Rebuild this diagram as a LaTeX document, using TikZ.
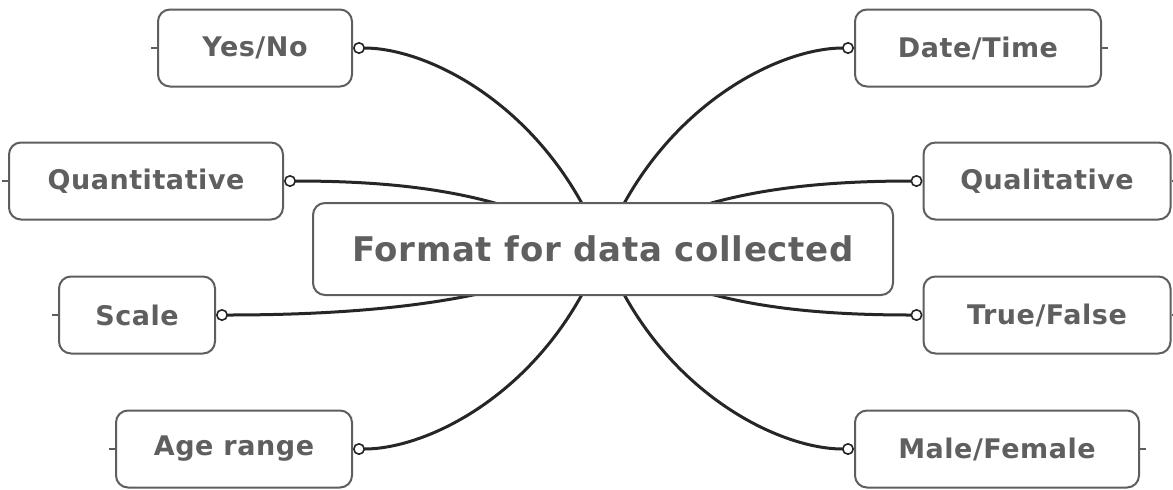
\documentclass[tikz,border=0pt]{standalone}
\usepackage{fontspec}
\setmainfont{DejaVu Sans}[LetterSpace=2]
\usetikzlibrary{arrows.meta}
\pgfdeclarelayer{bg}
\pgfsetlayers{bg,main}
\definecolor{boxgray}{HTML}{5E5E5E}
\definecolor{textgray}{HTML}{5F5F5F}
\definecolor{linegray}{HTML}{262626}
\begin{document}
\begin{tikzpicture}[x=0.5pt, y=-0.5pt,
    item/.style={draw=boxgray, line width=1pt, rounded corners=6pt, fill=white,
        inner sep=0pt, minimum height=38.5pt, text=textgray,
        font=\bfseries\fontsize{13.5}{16}\selectfont},
    link/.style={draw=linegray, line width=1.5pt,
        {Circle[open, length=6pt, width=6pt, line width=0.8pt]}-},
    stub/.style={draw=boxgray, line width=0.7pt}]
    \useasboundingbox (0,0) rectangle (1173,489);

    % centre
    \node[item, minimum width=290pt, minimum height=46pt,
        font=\bfseries\fontsize{17}{20}\selectfont] (center) at (603,249) {Format for data collected};

    % left side
    \node[item, minimum width=97pt] (yesno) at (255,48) {Yes/No};
    \node[item, minimum width=137pt] (quant) at (146,181) {Quantitative};
    \node[item, minimum width=78pt] (scale) at (137,315) {Scale};
    \node[item, minimum width=118pt] (age) at (234,449) {Age range};

    % right side
    \node[item, minimum width=123pt] (datetime) at (978,48) {Date/Time};
    \node[item, minimum width=123.5pt] (qual) at (1047,181) {Qualitative};
    \node[item, minimum width=123.5pt] (truefalse) at (1047,315) {True/False};
    \node[item, minimum width=142pt] (malefemale) at (997,449) {Male/Female};

    \begin{pgfonlayer}{bg}
        \draw[link] (yesno.east) .. controls +(78,0) and +(-53,-139) .. (center.center);
        \draw[link] (quant.east) .. controls +(147,0) and +(-83,-49) .. (center.center);
        \draw[link] (scale.east) .. controls +(170,0) and +(-83,49) .. (center.center);
        \draw[link] (age.east) .. controls +(78,0) and +(-53,139) .. (center.center);
        \draw[link] (datetime.west) .. controls +(-78,0) and +(53,-139) .. (center.center);
        \draw[link] (qual.west) .. controls +(-147,0) and +(83,-49) .. (center.center);
        \draw[link] (truefalse.west) .. controls +(-147,0) and +(83,49) .. (center.center);
        \draw[link] (malefemale.west) .. controls +(-78,0) and +(53,139) .. (center.center);
    \end{pgfonlayer}

    % small stubs on the outer sides
    \draw[stub] (yesno.west) -- ++(-6,0);
    \draw[stub] (quant.west) -- ++(-6,0);
    \draw[stub] (scale.west) -- ++(-6,0);
    \draw[stub] (age.west) -- ++(-6,0);
    \draw[stub] (datetime.east) -- ++(6,0);
    \draw[stub] (qual.east) -- ++(6,0);
    \draw[stub] (truefalse.east) -- ++(6,0);
    \draw[stub] (malefemale.east) -- ++(6,0);
\end{tikzpicture}
\end{document}
